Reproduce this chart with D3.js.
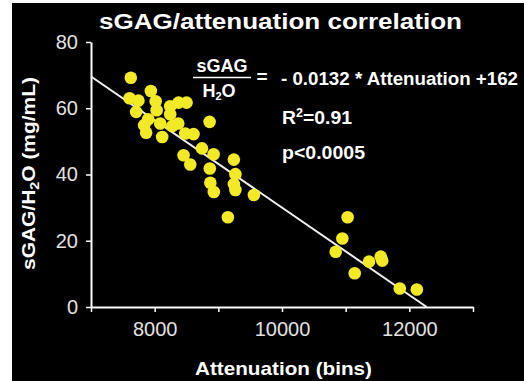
<!DOCTYPE html>
<html>
<head>
<meta charset="utf-8">
<script src="https://cdn.jsdelivr.net/npm/d3@7"></script>
<style>
  html, body { margin: 0; padding: 0; background: #ffffff; }
  svg { display: block; }
</style>
</head>
<body>
<svg id="chart"></svg>
<script>
const width = 524;
const height = 381;

const attenuation = [
  7625, 7606, 7745, 7709, 7940, 8016, 8031, 7898, 7866, 8087,
  8244, 8375, 8501, 8118, 8276, 8370, 8480, 8611, 8863, 8743,
  8926, 8454, 8559, 9244, 8866, 9268, 8874, 8929, 9244, 9268,
  9559, 9150, 11031, 10948, 10843, 11367, 11551, 11575, 11142, 11850,
  12118, 7835, 8244
];
const sgagH2O = [
  69.2, 63.0, 62.3, 58.9, 65.2, 62.1, 59.4, 56.7, 52.6, 55.4,
  58.2, 61.7, 61.7, 51.3, 54.6, 55.4, 52.4, 52.2, 55.9, 47.9,
  46.1, 45.8, 43.0, 44.5, 41.8, 40.1, 37.5, 34.7, 37.1, 35.3,
  33.8, 27.1, 27.1, 20.7, 16.7, 13.7, 15.2, 14.0, 10.2, 5.6,
  5.3, 54.9, 60.6
];

const xTicks = [7000, 8000, 9000, 10000, 11000, 12000, 13000];
const xLabelled = [8000, 10000, 12000];
const yTicks = [0, 20, 40, 60, 80];

const slope = -0.0132;
const intercept = 162;

const theme = {
  bg: "#000000",
  fg: "#ffffff",
  tickText: "#e2e2e2",
  dot: "#f3ea26",
  font: "'Liberation Sans', Arial, sans-serif"
};

const svg = d3.select("#chart").attr("width", width).attr("height", height);

// black panel with white strip on left/top like the slide crop
svg.append("rect")
  .attr("x", 12).attr("y", 3)
  .attr("width", width - 12).attr("height", height - 3)
  .attr("fill", theme.bg);

const x = d3.scaleLinear().domain([7000, 13000]).range([91, 473]);
const y = d3.scaleLinear().domain([0, 80]).range([307, 42]);

// axes
const xAxis = svg.append("g")
  .attr("transform", `translate(0,${y(0)})`)
  .call(d3.axisBottom(x)
    .tickValues(xTicks)
    .tickSize(5)
    .tickSizeOuter(0)
    .tickPadding(10)
    .tickFormat((d) => (xLabelled.includes(d) ? d : "")));

const yAxis = svg.append("g")
  .attr("transform", `translate(${x(7000)},0)`)
  .call(d3.axisLeft(y)
    .tickValues(yTicks)
    .tickSize(5)
    .tickSizeOuter(0)
    .tickPadding(8));

[xAxis, yAxis].forEach((ax) => {
  ax.select(".domain").attr("stroke", theme.fg).attr("stroke-width", 2);
  ax.selectAll(".tick line").attr("stroke", theme.fg).attr("stroke-width", 1.5);
  ax.selectAll(".tick text")
    .attr("fill", theme.tickText)
    .attr("font-family", theme.font)
    .attr("font-size", 20);
});
xAxis.selectAll(".tick text").attr("dy", "0.71em");

// regression line
const xEnd = -intercept / slope;
svg.append("line")
  .attr("x1", x(7000)).attr("y1", y(slope * 7000 + intercept))
  .attr("x2", x(xEnd)).attr("y2", y(0))
  .attr("stroke", "#f0f0f0")
  .attr("stroke-width", 2);

// points
svg.append("g")
  .selectAll("circle")
  .data(d3.zip(attenuation, sgagH2O))
  .join("circle")
  .attr("cx", (d) => x(d[0]))
  .attr("cy", (d) => y(d[1]))
  .attr("r", 6.3)
  .attr("fill", theme.dot);

// titles
svg.append("text")
  .attr("x", 99).attr("y", 29)
  .attr("textLength", 363).attr("lengthAdjust", "spacingAndGlyphs")
  .attr("fill", theme.fg)
  .attr("font-family", theme.font)
  .attr("font-weight", "bold")
  .attr("font-size", 22.5)
  .text("sGAG/attenuation correlation");

svg.append("text")
  .attr("x", 195).attr("y", 375)
  .attr("textLength", 177).attr("lengthAdjust", "spacingAndGlyphs")
  .attr("fill", theme.fg)
  .attr("font-family", theme.font)
  .attr("font-weight", "bold")
  .attr("font-size", 19)
  .text("Attenuation (bins)");

const yTitle = svg.append("text")
  .attr("transform", "translate(35,270) rotate(-90)")
  .attr("textLength", 193).attr("lengthAdjust", "spacingAndGlyphs")
  .attr("fill", theme.fg)
  .attr("font-family", theme.font)
  .attr("font-weight", "bold")
  .attr("font-size", 19);
yTitle.append("tspan").text("sGAG/H");
yTitle.append("tspan").attr("font-size", 13).attr("dy", 4).text("2");
yTitle.append("tspan").attr("dy", -4).text("O (mg/mL)");

// equation block
const eq = svg.append("g")
  .attr("fill", theme.fg)
  .attr("font-family", theme.font)
  .attr("font-weight", "bold");

eq.append("text")
  .attr("x", 222).attr("y", 72)
  .attr("text-anchor", "middle")
  .attr("font-size", 18)
  .text("sGAG");

svg.append("line")
  .attr("x1", 193).attr("x2", 251)
  .attr("y1", 77.5).attr("y2", 77.5)
  .attr("stroke", theme.fg)
  .attr("stroke-width", 1.5);

const h2o = eq.append("text")
  .attr("x", 219).attr("y", 97)
  .attr("text-anchor", "middle")
  .attr("font-size", 18);
h2o.append("tspan").text("H");
h2o.append("tspan").attr("font-size", 11).attr("dy", 3).text("2");
h2o.append("tspan").attr("dy", -3).text("O");

eq.append("text")
  .attr("x", 262).attr("y", 83)
  .attr("text-anchor", "middle")
  .attr("font-size", 19)
  .text("=");

eq.append("text")
  .attr("x", 281).attr("y", 85)
  .attr("textLength", 237).attr("lengthAdjust", "spacingAndGlyphs")
  .attr("font-size", 18.5)
  .text("- 0.0132 * Attenuation +162");

const r2 = eq.append("text")
  .attr("x", 282).attr("y", 124)
  .attr("textLength", 70).attr("lengthAdjust", "spacingAndGlyphs")
  .attr("font-size", 18.5);
r2.append("tspan").text("R");
r2.append("tspan").attr("font-size", 12).attr("dy", -7).text("2");
r2.append("tspan").attr("dy", 7).text("=0.91");

eq.append("text")
  .attr("x", 282).attr("y", 159)
  .attr("textLength", 83).attr("lengthAdjust", "spacingAndGlyphs")
  .attr("font-size", 18.5)
  .text("p<0.0005");
</script>
</body>
</html>
